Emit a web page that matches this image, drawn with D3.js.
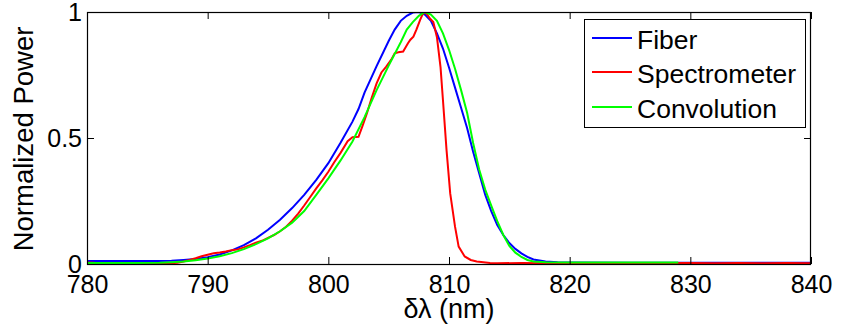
<!DOCTYPE html>
<html>
<head>
<meta charset="utf-8">
<script src="https://cdn.jsdelivr.net/npm/d3@7"></script>
<style>
  html, body { margin: 0; padding: 0; background: #fff; }
  svg { display: block; font-family: "Liberation Sans", Arial, Helvetica, sans-serif; }
</style>
</head>
<body>
<svg id="chart" width="841" height="329"></svg>
<script>
// ---- data ----
const xTicks = [780, 790, 800, 810, 820, 830, 840];
const yTicks = [0, 0.5, 1];
const yTickLabels = ["0", "0.5", "1"];
const seriesNames = ["Fiber", "Spectrometer", "Convolution"];
const seriesColors = ["#0000ff", "#ff0000", "#00ff00"];

const fiberX = [780, 782, 784, 786, 787, 788, 789, 790, 791, 792, 793, 794, 795, 796, 797, 798, 799, 800, 801, 802, 802.5, 803, 804, 805, 805.5, 806, 806.5, 807, 807.5, 808, 808.5, 809, 809.5, 810, 810.5, 811, 811.5, 812, 812.5, 813, 813.5, 814, 814.5, 815, 815.5, 816, 816.5, 817, 818, 819, 820, 825, 830, 835, 840];
const fiberY = [0.012, 0.012, 0.012, 0.012, 0.013, 0.016, 0.02, 0.027, 0.038, 0.054, 0.075, 0.102, 0.136, 0.176, 0.222, 0.274, 0.334, 0.40, 0.48, 0.565, 0.615, 0.68, 0.785, 0.885, 0.93, 0.965, 0.985, 0.998, 1.0, 0.99, 0.965, 0.915, 0.855, 0.78, 0.70, 0.62, 0.54, 0.445, 0.36, 0.275, 0.21, 0.155, 0.115, 0.083, 0.06, 0.042, 0.028, 0.018, 0.01, 0.007, 0.006, 0.005, 0.005, 0.005, 0.005];

const specX = [780, 780.5, 781, 784, 787, 787.5, 788, 788.5, 789, 789.5, 790, 790.5, 791, 791.5, 792, 792.5, 793, 793.5, 794, 794.5, 795, 795.5, 796, 796.5, 797, 797.5, 798, 798.5, 799, 799.5, 800, 800.5, 801, 801.6, 802.0, 802.5, 802.85, 803.2, 803.6, 804, 804.4, 804.8, 805.2, 805.5, 805.8, 806.2, 806.6, 806.8, 807.05, 807.3, 807.6, 807.8, 808, 808.2, 808.4, 808.7, 809, 809.3, 809.5, 809.8, 810.1, 810.5, 810.8, 811.3, 811.8, 812.3, 813.4, 814, 816, 818, 820, 825, 830, 832, 834, 836, 838, 840];
const specY = [0.006, 0.005, 0.003, 0.003, 0.003, 0.005, 0.01, 0.016, 0.023, 0.031, 0.037, 0.043, 0.046, 0.05, 0.055, 0.058, 0.066, 0.075, 0.085, 0.092, 0.104, 0.115, 0.13, 0.148, 0.172, 0.2, 0.232, 0.266, 0.3, 0.332, 0.366, 0.405, 0.44, 0.487, 0.503, 0.505, 0.55, 0.598, 0.66, 0.717, 0.76, 0.783, 0.81, 0.836, 0.84, 0.843, 0.876, 0.89, 0.902, 0.93, 0.968, 0.99, 1.0, 0.99, 0.975, 0.96, 0.90, 0.78, 0.65, 0.45, 0.28, 0.148, 0.069, 0.03, 0.016, 0.01, 0.004, 0.003, 0.004, 0.003, 0.003, 0.003, 0.004, 0.003, 0.004, 0.003, 0.004, 0.003];

const convX = [780, 782, 784, 786, 787, 788, 789, 790, 791, 792, 793, 794, 795, 796, 797, 798, 799, 800, 801, 802, 803, 804, 805, 806, 806.5, 807, 807.5, 808, 808.5, 809, 809.5, 810, 810.5, 811, 811.5, 812, 812.5, 813, 813.5, 814, 814.5, 815, 815.5, 816, 816.5, 817, 818, 820, 825, 829];
const convY = [0.004, 0.004, 0.004, 0.005, 0.007, 0.01, 0.015, 0.022, 0.031, 0.043, 0.059, 0.079, 0.102, 0.13, 0.164, 0.21, 0.274, 0.34, 0.41, 0.486, 0.583, 0.69, 0.787, 0.88, 0.93, 0.96, 0.985, 1.0, 0.99, 0.965, 0.915, 0.85, 0.775, 0.69, 0.60, 0.48, 0.375, 0.295, 0.232, 0.17, 0.115, 0.072, 0.045, 0.028, 0.016, 0.01, 0.007, 0.006, 0.006, 0.006];

// ---- layout ----
const svg = d3.select("#chart");
const L = 87, R = 811, T = 12, B = 264;
const x = d3.scaleLinear().domain([780, 840]).range([L, R]);
const y = d3.scaleLinear().domain([0, 1]).range([B, T]);
const FS = 25;

svg.append("rect").attr("x", L).attr("y", T).attr("width", R - L).attr("height", B - T)
  .attr("fill", "#fff");

// curves
const series = [
  {xs: fiberX, ys: fiberY},
  {xs: specX, ys: specY},
  {xs: convX, ys: convY}
];
const line = d3.line().x(d => x(d[0])).y(d => y(d[1]));
svg.append("clipPath").attr("id", "clip").append("rect")
  .attr("x", L).attr("y", T).attr("width", R - L).attr("height", B - T);
series.forEach((s, i) => {
  svg.append("path")
    .attr("d", line(d3.zip(s.xs, s.ys)))
    .attr("fill", "none")
    .attr("stroke", seriesColors[i])
    .attr("stroke-width", 2)
    .attr("clip-path", "url(#clip)");
});

// axes (inward ticks, mirrored)
function styleAxis(g, labels) {
  g.select(".domain").remove();
  g.selectAll(".tick line").attr("stroke", "#000").attr("stroke-width", 1);
  g.selectAll(".tick text").attr("fill", "#000").style("font-size", FS + "px")
    .style("font-family", "'Liberation Sans', Arial, sans-serif");
  if (!labels) g.selectAll(".tick text").remove();
}
svg.append("g").attr("transform", `translate(0,${B})`)
  .call(d3.axisBottom(x).tickValues(xTicks).tickSize(-7).tickPadding(11).tickFormat(d3.format("d")))
  .call(g => styleAxis(g, true));
svg.append("g").attr("transform", `translate(0,${T})`)
  .call(d3.axisTop(x).tickValues(xTicks).tickSize(-7))
  .call(g => styleAxis(g, false));
svg.append("g").attr("transform", `translate(${L},0)`)
  .call(d3.axisLeft(y).tickValues(yTicks).tickSize(-7).tickPadding(5).tickFormat((d, i) => yTickLabels[i]))
  .call(g => styleAxis(g, true));
svg.append("g").attr("transform", `translate(${R},0)`)
  .call(d3.axisRight(y).tickValues(yTicks).tickSize(-7))
  .call(g => styleAxis(g, false));

// frame
svg.append("rect").attr("x", L + 0.5).attr("y", T + 0.5).attr("width", R - L - 1).attr("height", B - T)
  .attr("fill", "none").attr("stroke", "#000").attr("stroke-width", 1.2);

// axis labels
svg.append("text").attr("x", (L + R) / 2).attr("y", 318).attr("text-anchor", "middle")
  .style("font-size", "27px").text("δλ (nm)");
svg.append("text").attr("transform", `translate(33,${(T + B) / 2 + 1}) rotate(-90)`)
  .attr("text-anchor", "middle").style("font-size", "27.5px").text("Normalized Power");

// legend
const lg = svg.append("g");
lg.append("rect").attr("x", 584.5).attr("y", 19.5).attr("width", 221).attr("height", 108)
  .attr("fill", "#fff").attr("stroke", "#000").attr("stroke-width", 1);
const rowY = [38, 72, 107];
seriesNames.forEach((n, i) => {
  lg.append("line").attr("x1", 592).attr("x2", 632).attr("y1", rowY[i]).attr("y2", rowY[i])
    .attr("stroke", seriesColors[i]).attr("stroke-width", 2);
  lg.append("text").attr("x", 637).attr("y", rowY[i] + 11)
    .style("font-size", "26.5px").text(n);
});
</script>
</body>
</html>
